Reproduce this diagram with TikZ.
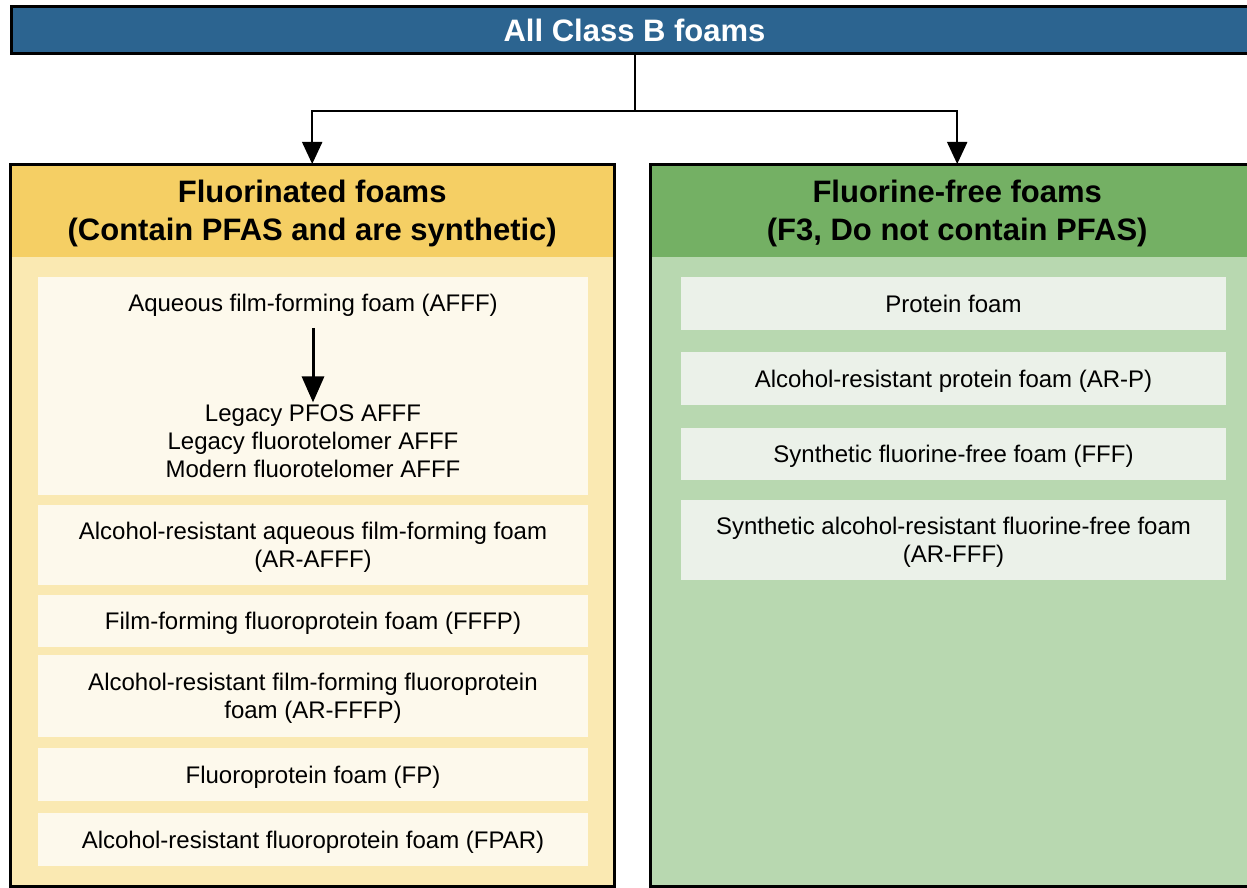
\documentclass[tikz,border=0pt]{standalone}
\usepackage{fontspec}
\setmainfont{Liberation Sans}
\usetikzlibrary{arrows.meta}
\definecolor{barblue}{RGB}{44,100,144}
\definecolor{yhead}{RGB}{245,207,100}
\definecolor{ybody}{RGB}{250,233,178}
\definecolor{yitem}{RGB}{253,249,236}
\definecolor{ghead}{RGB}{116,176,100}
\definecolor{gbody}{RGB}{184,216,176}
\definecolor{gitem}{RGB}{235,241,233}
\tikzset{
  topbar/.style={draw=black, line width=3pt, fill=barblue, text=white, inner sep=0pt,
    font=\bfseries\fontsize{31}{38}\selectfont, anchor=north west},
  panel/.style={inner sep=0pt, anchor=north west, minimum height=722pt},
  panelhead/.style={inner sep=0pt, anchor=north west, minimum height=93pt, text depth=0pt,
    align=center, font=\bfseries\fontsize{31}{38}\selectfont},
  frame/.style={draw=black, line width=3pt},
  litem/.style={fill=yitem, inner sep=0pt, minimum width=550pt, align=center, text depth=0pt,
    font=\fontsize{24}{28}\selectfont},
  ritem/.style={fill=gitem, inner sep=0pt, minimum width=545pt, align=center, text depth=0pt,
    font=\fontsize{24}{28}\selectfont},
  txt/.style={inner sep=0pt, align=center, text depth=0pt, font=\fontsize{24}{28}\selectfont},
  conn/.style={line width=2pt},
  tip/.style={-{Triangle[width=20pt,length=22pt]}},
  bigtip/.style={line width=3pt, -{Triangle[width=22pt,length=26pt]}}
}
\begin{document}
\begin{tikzpicture}[x=1pt,y=-1pt]
\useasboundingbox (0,0) rectangle (1247,888);
\clip (0,0) rectangle (1247,888);
\fill[white] (0,0) rectangle (1247,888);

% top bar
\node[topbar, minimum width=1246pt, minimum height=47pt] (top) at (10,5) {All Class B foams};

% left panel
\node[panel, fill=ybody, minimum width=604pt] (lp) at (10,164) {};
\node[panelhead, fill=yhead, minimum width=604pt] (lh) at (10,164) {Fluorinated foams\\(Contain PFAS and are synthetic)};

% right panel
\node[panel, fill=gbody, minimum width=614pt] (rp) at (650,164) {};
\node[panelhead, fill=ghead, minimum width=614pt] (rh) at (650,164) {Fluorine-free foams\\(F3, Do not contain PFAS)};

% left items
\node[litem, minimum height=218pt] (l1) at (313,386) {};
\node[txt] (a1) at (313,303) {Aqueous film-forming foam (AFFF)};
\node[txt] (a2) at (313,441) {Legacy PFOS AFFF\\Legacy fluorotelomer AFFF\\Modern fluorotelomer AFFF};
\draw[bigtip, shorten <=16pt, shorten >=2pt] (a1.south) -- (a2.north);
\node[litem, minimum height=80pt] (l2) at (313,545) {Alcohol-resistant aqueous film-forming foam\\(AR-AFFF)};
\node[litem, minimum height=52pt] (l3) at (313,621) {Film-forming fluoroprotein foam (FFFP)};
\node[litem, minimum height=82pt] (l4) at (313,696) {Alcohol-resistant film-forming fluoroprotein\\foam (AR-FFFP)};
\node[litem, minimum height=53pt] (l5) at (313,774.5) {Fluoroprotein foam (FP)};
\node[litem, minimum height=53pt] (l6) at (313,839.5) {Alcohol-resistant fluoroprotein foam (FPAR)};

% right items
\node[ritem, minimum height=53pt] (r1) at (953.5,303.5) {Protein foam};
\node[ritem, minimum height=53pt] (r2) at (953.5,378.5) {Alcohol-resistant protein foam (AR-P)};
\node[ritem, minimum height=52pt] (r3) at (953.5,454) {Synthetic fluorine-free foam (FFF)};
\node[ritem, minimum height=80pt] (r4) at (953.5,540) {Synthetic alcohol-resistant fluorine-free foam\\(AR-FFF)};

% frames
\draw[frame] (lp.north west) rectangle (lp.south east);
\draw[frame] (rp.north west) rectangle (rp.south east);

% connectors
\coordinate (j) at ([yshift=-56pt]top.south);
\draw[conn] (top.south) -- (j);
\draw[conn, tip] (j) -| (lh.north);
\draw[conn, tip] (j) -| (rh.north);
\end{tikzpicture}
\end{document}
